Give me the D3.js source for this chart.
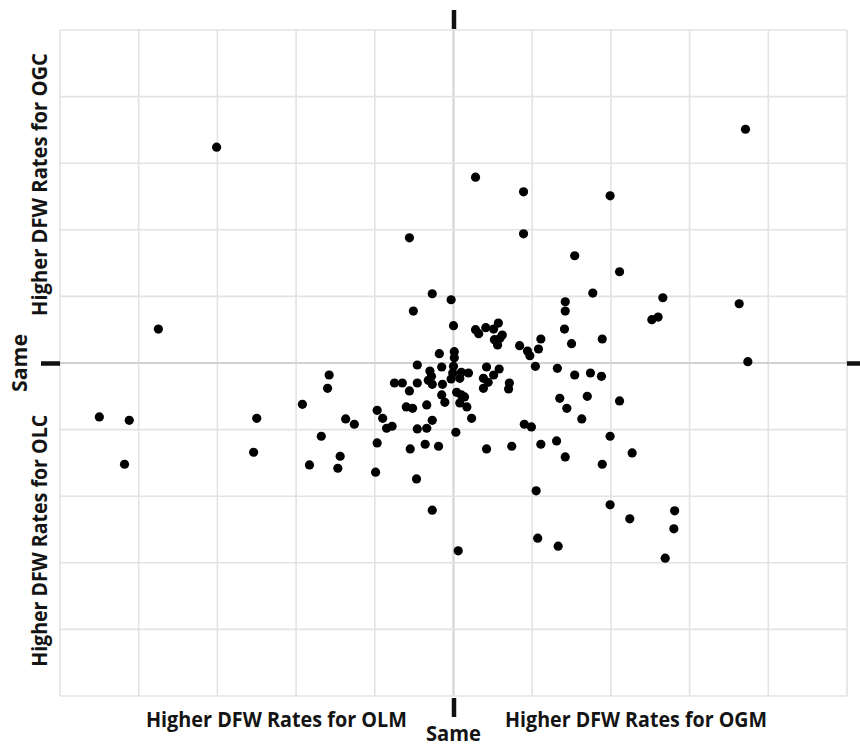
<!DOCTYPE html>
<html>
<head>
<meta charset="utf-8">
<script src="https://cdn.jsdelivr.net/npm/d3@7"></script>
<style>
  html, body { margin: 0; padding: 0; background: #fff; }
  svg { display: block; }
  .lbl { font-family: "Open Sans", "Lato", sans-serif; font-weight: 700; fill: #141414; }
</style>
</head>
<body>
<svg id="chart" width="860" height="746"></svg>
<script>
// DFW rate difference, OGM vs OLM (negative = higher for OLM)
const diffM = [
  -3.01, 0.28, 0.89, 0.89, -0.56, 3.71, 1.99, -3.75, -4.50, -4.12, -4.18, -2.50, -2.54, -1.92,
  2.11, 2.66, 2.52, 2.60, 3.63, 3.74, 1.89, 1.88, 2.11, 1.99, 2.27, 1.89, 1.99, 2.24, 2.81, 2.80,
  2.69, -0.27, 0.06, 1.07, 1.33,
  1.54, 1.77, 1.42, 1.42, 1.41, 1.50, -0.27, -0.03, -0.51, 0.00, 0.84, 0.94, 0.97, 1.11, 1.08,
  1.04, 1.32, 1.54, 1.74, 1.35, 1.44, 1.70, 1.63, 1.42, 1.31, 1.11, 0.90, 0.99, 0.74, 0.42, 1.05,
  -1.37, -1.26, -1.68, -1.44, -1.47, -1.83, -1.60, -1.58, -0.99, -0.47, -0.55,
  0.28, 0.32, 0.41, 0.51, 0.57, 0.62, 0.52, 0.56, 0.59, -0.18, 0.01, 0.01, 0.00, -0.46, -0.15,
  -0.30, -0.28, -0.32, -0.75, -0.65, -0.46, -0.27, -0.14, -0.56, -0.03, 0.08, 0.10, 0.19, 0.42,
  0.58, 0.38, 0.44, 0.51, 0.38, 0.71, 0.70, 0.04, 0.10, 0.14, 0.08, 0.17, -0.15, -0.11, -0.60,
  -0.52, -0.34, -0.27, -0.78, -0.97, -0.90, -0.85, -0.97, -0.46, -0.34, 0.03, -0.36, -0.19, 0.23, -0.01
];
// DFW rate difference, OGC vs OLC (negative = higher for OLC)
const diffC = [
  3.24, 2.79, 2.57, 1.94, 1.88, 3.51, 2.51, 0.51, -0.81, -0.86, -1.52, -0.83, -1.34, -0.62,
  1.37, 0.98, 0.65, 0.69, 0.89, 0.02, 0.36, -0.20, -0.57, -1.10, -1.35, -1.52, -2.13, -2.34, -2.22, -2.49,
  -2.93, -2.21, -2.82, -2.63, -2.75,
  1.61, 1.05, 0.92, 0.78, 0.51, 0.29, 1.04, 0.95, 0.78, 0.56, 0.26, 0.18, 0.11, 0.36, 0.21,
  -0.05, -0.08, -0.18, -0.15, -0.53, -0.68, -0.50, -0.84, -1.41, -1.17, -1.22, -0.92, -0.96, -1.25, -1.29, -1.92,
  -0.84, -0.92, -1.10, -1.40, -1.58, -1.53, -0.38, -0.18, -1.64, -1.74, -1.29,
  0.50, 0.44, 0.53, 0.51, 0.60, 0.42, 0.35, 0.27, 0.37, 0.14, 0.17, 0.08, -0.05, -0.03, -0.06,
  -0.12, -0.20, -0.26, -0.30, -0.30, -0.30, -0.32, -0.32, -0.42, -0.24, -0.23, -0.14, -0.15, -0.06,
  -0.09, -0.23, -0.29, -0.18, -0.38, -0.30, -0.39, -0.44, -0.48, -0.51, -0.60, -0.66, -0.48, -0.59, -0.66,
  -0.68, -0.63, -0.86, -0.95, -0.71, -0.83, -0.98, -1.20, -0.99, -0.98, -1.04, -1.22, -1.25, -0.83, -0.15
];
const gridValues = d3.range(-5, 6);          // one gridline per unit
const xLabels = ["Higher DFW Rates for OLM", "Same", "Higher DFW Rates for OGM"];
const yLabels = ["Higher DFW Rates for OLC", "Same", "Higher DFW Rates for OGC"];

const svg = d3.select("#chart");
const x = d3.scaleLinear().domain([-5, 5]).range([60, 847]);
const y = d3.scaleLinear().domain([-5, 5]).range([696, 30]);

// gridlines
const grid = svg.append("g");
grid.selectAll("line.v").data(gridValues).join("line")
  .attr("x1", d => x(d)).attr("x2", d => x(d))
  .attr("y1", y(5)).attr("y2", y(-5))
  .attr("stroke", d => d === 0 ? "#d2d2d2" : "#e3e3e3")
  .attr("stroke-width", d => d === 0 ? 2 : 1.6);
grid.selectAll("line.h").data(gridValues).join("line")
  .attr("y1", d => y(d)).attr("y2", d => y(d))
  .attr("x1", x(-5)).attr("x2", x(5))
  .attr("stroke", d => d === 0 ? "#d2d2d2" : "#e3e3e3")
  .attr("stroke-width", d => d === 0 ? 2 : 1.6);

// heavy "Same" tick marks on each side of the plot area
function centreTick(axis, transform) {
  const g = svg.append("g").attr("transform", transform)
    .call(axis.tickValues([0]).tickSize(19).tickSizeOuter(0).tickFormat(""));
  g.select(".domain").remove();
  g.selectAll(".tick line").attr("stroke", "#111").attr("stroke-width", 4.5);
}
centreTick(d3.axisTop(x), `translate(0,${y(5) - 1})`);
centreTick(d3.axisBottom(x), `translate(0,${y(-5) + 2})`);
centreTick(d3.axisLeft(y), `translate(${x(-5)},0)`);
centreTick(d3.axisRight(y), `translate(${x(5)},0)`);

// points
svg.append("g").selectAll("circle")
  .data(diffM.map((v, i) => [v, diffC[i]]))
  .join("circle")
  .attr("cx", d => x(d[0]))
  .attr("cy", d => y(d[1]))
  .attr("r", 4.6)
  .attr("fill", "#000");

// bottom labels
const bx = [x(-2.25), x(0), x(2.32)];
const bw = [261, 55, 262];
const by = [727, 741, 727];
svg.append("g").selectAll("text").data(xLabels).join("text")
  .attr("class", "lbl")
  .attr("x", (d, i) => bx[i]).attr("y", (d, i) => by[i])
  .attr("text-anchor", "middle")
  .attr("font-size", 20.5)
  .attr("textLength", (d, i) => bw[i])
  .attr("lengthAdjust", "spacingAndGlyphs")
  .text(d => d);

// left labels, rotated
const ly = [y(-2.67), y(0), y(2.68)];
const lw = [252, 58, 263];
const lx = [47, 27, 47];
svg.append("g").selectAll("text").data(yLabels).join("text")
  .attr("class", "lbl")
  .attr("transform", (d, i) => `translate(${lx[i]},${ly[i]}) rotate(-90)`)
  .attr("text-anchor", "middle")
  .attr("font-size", 20.5)
  .attr("textLength", (d, i) => lw[i])
  .attr("lengthAdjust", "spacingAndGlyphs")
  .text(d => d);
</script>
</body>
</html>
